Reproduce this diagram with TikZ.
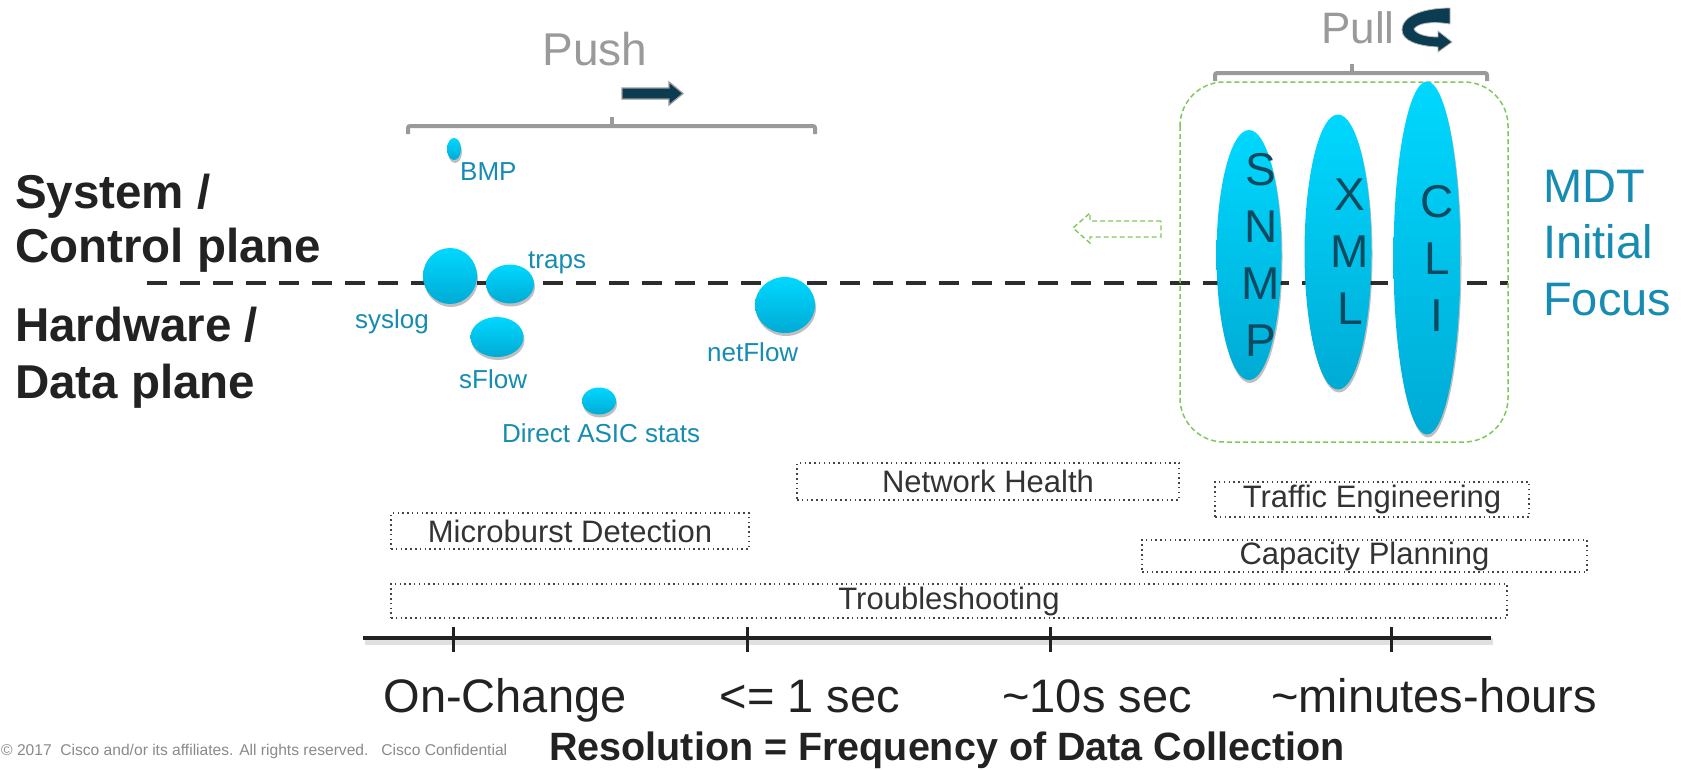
\documentclass[tikz,border=0pt]{standalone}
\usepackage{fontspec}
\setmainfont{Liberation Sans}
\usetikzlibrary{shapes.geometric,shadows,arrows.meta}

\definecolor{bracketgray}{HTML}{9A9A9A}
\definecolor{navy}{HTML}{0B3C52}
\definecolor{cyantop}{HTML}{00D8FF}
\definecolor{cyanbot}{HTML}{00ABD5}
\definecolor{tealtxt}{HTML}{168CB2}
\definecolor{lettertxt}{HTML}{0D4A60}
\definecolor{darktxt}{HTML}{222222}
\definecolor{boxtxt}{HTML}{333333}
\definecolor{dotgray}{HTML}{444444}
\definecolor{mdtgreen}{HTML}{80C85E}
\definecolor{notegray}{HTML}{8A8A8A}

\newcommand{\fsz}[2]{\fontsize{#1}{#2}\selectfont}

\begin{document}
\begin{tikzpicture}[x=1pt,y=-1pt,
  bubble/.style={ellipse, inner sep=0pt, draw=none,
    top color=cyantop, bottom color=cyanbot,
    drop shadow={shadow xshift=1pt, shadow yshift=-3pt, opacity=.25, fill=black}},
  bublabel/.style={anchor=base west, inner sep=0pt, text=tealtxt, font=\fsz{26}{30}},
  plane/.style={anchor=base west, inner sep=0pt, text=darktxt, font=\bfseries\fsz{47.5}{54}},
  letters/.style={inner sep=0pt, align=center, text=lettertxt, font=\fsz{46}{57}},
  usecase/.style={rectangle, draw=dotgray, line width=1.5pt,
    dash pattern=on 1.5pt off 3.3pt, inner sep=0pt, text=boxtxt, font=\fsz{31}{36}},
  ticklabel/.style={anchor=base, inner sep=0pt, text=darktxt, font=\fsz{47}{54}},
  bracket/.style={draw=bracketgray, line width=4pt, rounded corners=2pt},
  mdtline/.style={draw=mdtgreen, line width=1.5pt, dash pattern=on 5pt off 3pt}
]
\useasboundingbox (0,0) rectangle (1687,769);
\fill[white] (0,0) rectangle (1687,769);

% plane divider
\draw[line width=4.5pt, draw=darktxt!95, dash pattern=on 20pt off 13pt] (147,283) -- (1508,283);

% plane labels
\node[plane] (sys1) at (15,208) {System /};
\node[plane] (sys2) at (15,262) {Control plane};
\node[plane] (hw1) at (15,341) {Hardware /};
\node[plane] (hw2) at (15,398) {Data plane};

% push group
\node[anchor=base, inner sep=0pt, text=bracketgray, font=\fsz{46}{52}] (push) at (595,65) {Push};
\fill[navy, draw=bracketgray, line width=1.3pt]
  (622,88) -- (669,88) -- (669,82) -- (683,93.5) -- (669,105) -- (669,99) -- (622,99) -- cycle;
\draw[bracket] (408,134) -- (408,126) -- (815,126) -- (815,134);
\draw[bracket] (612,126) -- (612,117);

% push bubbles
\node[bubble, minimum width=14pt, minimum height=22pt] (bmp) at (454,149) {};
\node[bubble, minimum width=54pt, minimum height=56pt] (syslog) at (450,276) {};
\node[bubble, minimum width=48pt, minimum height=39pt] (traps) at (510,284) {};
\node[bubble, minimum width=53pt, minimum height=40pt] (sflow) at (497,337) {};
\node[bubble, minimum width=34pt, minimum height=27pt] (asic) at (599,401) {};
\node[bubble, minimum width=60pt, minimum height=56pt] (netflow) at (785,305) {};

\node[bublabel] (bmpl) at (460,180) {BMP};
\node[bublabel] (trapsl) at (528,268) {traps};
\node[bublabel] (syslogl) at (355,328) {syslog};
\node[bublabel] (sflowl) at (459,388) {sFlow};
\node[bublabel] (netflowl) at (707,361) {netFlow};
\node[bublabel] (asicl) at (502,442) {Direct ASIC stats};

% pull group
\node[anchor=base west, inner sep=0pt, text=bracketgray, font=\fsz{44}{50}] (pull) at (1321,43) {Pull};
\fill[navy, draw=bracketgray!70, line width=0.8pt]
  (1450,8) -- (1450,24) .. controls (1432,21) and (1418,23) .. (1414,29)
  .. controls (1416,34) and (1426,37) .. (1438,37) -- (1438,31) -- (1452,42)
  -- (1438,52) -- (1438,47) .. controls (1418,46) and (1402,41) .. (1402,30)
  .. controls (1402,15) and (1425,8) .. (1450,8) -- cycle;
\draw[bracket] (1215,81) -- (1215,73) -- (1487,73) -- (1487,81);
\draw[bracket] (1352,73) -- (1352,64);

% MDT focus area
\draw[mdtline, rounded corners=44pt] (1180,82) rectangle (1508,442);
\draw[mdtline, line width=1.4pt]
  (1161,221) -- (1090,221) -- (1090,213) -- (1073,228) -- (1090,243) -- (1090,237) -- (1161,237) -- cycle;

\node[bubble, minimum width=65pt, minimum height=250pt] (snmp) at (1249,255) {};
\node[bubble, minimum width=67pt, minimum height=275pt] (xml) at (1338,252) {};
\node[bubble, minimum width=67pt, minimum height=353pt] (cli) at (1427,258) {};
\node[letters] (snmpt) at ([xshift=12pt]snmp.center) {S\\N\\M\\P};
\node[letters] (xmlt) at ([xshift=12pt]xml.center) {X\\M\\L};
\node[letters] (clit) at ([xshift=10pt]cli.center) {C\\L\\I};

\node[anchor=base west, inner sep=0pt, text=tealtxt, font=\fsz{47}{54}] (mdt1) at (1543,202) {MDT};
\node[anchor=base west, inner sep=0pt, text=tealtxt, font=\fsz{47}{54}] (mdt2) at (1543,258) {Initial};
\node[anchor=base west, inner sep=0pt, text=tealtxt, font=\fsz{47}{54}] (mdt3) at (1543,315) {Focus};

% use cases
\node[usecase, minimum width=382pt, minimum height=37pt] (health) at (988,481.5) {Network Health};
\node[usecase, minimum width=358pt, minimum height=36pt] (microburst) at (570,531) {Microburst Detection};
\node[usecase, minimum width=314pt, minimum height=35pt] (traffic) at (1372,499.5) {Traffic Engineering};
\node[usecase, minimum width=445pt, minimum height=32pt] (capacity) at (1364.5,556) {Capacity Planning};
\node[usecase, minimum width=1116pt, minimum height=34pt] (trouble) at (949,601) {Troubleshooting};

% resolution axis
\draw[line width=7pt, draw=black!12] (365,641) -- (1493,641);
\draw[line width=4.5pt, draw=darktxt] (363,638) -- (1491,638);
\foreach \x in {453,747,1050,1391}
  \draw[line width=3pt, draw=darktxt] (\x,627) -- (\x,652);

\node[ticklabel] (onchange) at (505,712) {On-Change};
\node[ticklabel] (onesec) at (810,712) {<= 1 sec};
\node[ticklabel] (tensec) at (1097,712) {\char`\~10s sec};
\node[ticklabel] (minutes) at (1434,712) {\char`\~minutes-hours};

\node[anchor=base, inner sep=0pt, text=darktxt, font=\bfseries\fsz{39.5}{45}] (title) at (947,760)
  {Resolution = Frequency of Data Collection};
\node[anchor=base west, inner sep=0pt, text=notegray, font=\fsz{15.6}{18}] (copy) at (1,755)
  {\textcopyright{} 2017\ \ Cisco and/or its affiliates. All rights reserved.\ \ \ Cisco Confidential};
\end{tikzpicture}
\end{document}
